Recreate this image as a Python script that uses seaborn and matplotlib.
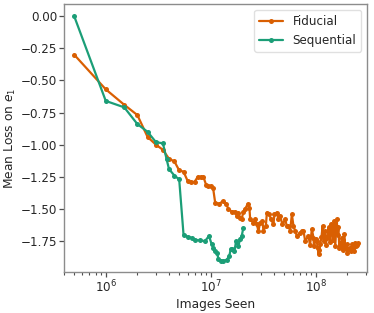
import numpy as np
import pandas as pd
import matplotlib
matplotlib.use("Agg")
import matplotlib.pyplot as plt
import seaborn as sns

# data: images seen (millions) and mean loss on e_1
fid_x = [0.5, 1.0, 1.5, 2.0, 2.5, 3.0, 3.5, 4.0, 4.5, 5.0, 5.5, 6.0, 6.5, 7.0, 7.5,
         8.0, 8.5, 9.0, 9.5, 10.0, 10.5, 11.0, 12.0, 13.0, 14.0, 14.7, 15.8, 17.0,
         17.7, 18.3, 19.0, 19.7, 20.4, 21.2, 22.5, 23.3, 23.7, 25.4, 26.4, 27.4,
         28.4, 29.5, 31.0, 31.7, 33.4, 34.2, 35.9, 37.5, 39.5, 40.3, 42.5, 44.0,
         45.7, 48.1, 51.0, 52.9, 54.8, 56.9, 59.1, 61.2, 63.5, 65.9, 70.9, 73.5,
         76.2, 79.1, 85.0, 88.0, 91.6, 94.9, 96.0, 100.0, 102.0, 104.0, 106.0,
         108.0, 110.0, 113.0, 116.0, 119.0, 121.0, 125.0, 127.0, 130.0, 132.0,
         136.0, 140.0, 142.0, 145.0, 148.0, 150.0, 153.0, 158.0, 161.0, 164.0,
         167.0, 170.0, 173.0, 177.0, 180.0, 183.0, 187.0, 190.0, 197.0, 200.0,
         204.0, 210.0, 215.0, 220.0, 228.0, 232.0, 237.0, 242.0, 246.0, 251.0]
fid_y = [-0.30, -0.57, -0.69, -0.77, -0.94, -1.00, -1.04, -1.11, -1.13, -1.20,
         -1.21, -1.28, -1.29, -1.29, -1.25, -1.25, -1.25, -1.31, -1.32, -1.32,
         -1.335, -1.45, -1.46, -1.44, -1.46, -1.50, -1.52, -1.52, -1.555, -1.53,
         -1.567, -1.58, -1.52, -1.50, -1.46, -1.49, -1.58, -1.606, -1.58, -1.62,
         -1.67, -1.606, -1.593, -1.67, -1.632, -1.528, -1.541, -1.58, -1.62,
         -1.541, -1.528, -1.58, -1.555, -1.62, -1.58, -1.632, -1.632, -1.67,
         -1.541, -1.632, -1.67, -1.71, -1.683, -1.67, -1.67, -1.748, -1.71,
         -1.78, -1.658, -1.722, -1.79, -1.73, -1.748, -1.80, -1.851, -1.82,
         -1.774, -1.72, -1.632, -1.75, -1.67, -1.78, -1.722, -1.70, -1.644,
         -1.76, -1.62, -1.632, -1.74, -1.68, -1.593, -1.79, -1.58, -1.70, -1.644,
         -1.80, -1.761, -1.78, -1.722, -1.82, -1.74, -1.696, -1.80, -1.774,
         -1.84, -1.813, -1.80, -1.83, -1.774, -1.80, -1.83, -1.761, -1.79,
         -1.78, -1.768]

seq_x = [0.5, 1.0, 1.5, 2.0, 2.5, 3.0, 3.5, 3.8, 4.0, 4.5, 5.0, 5.5, 6.0, 6.6,
         7.1, 7.9, 8.8, 9.6, 10.2, 10.6, 11.0, 11.5, 11.8, 12.5, 13.2, 14.2,
         15.0, 15.5, 16.0, 16.8, 17.4, 18.3, 19.0, 19.7, 20.4]
seq_y = [0.00, -0.66, -0.71, -0.84, -0.90, -0.98, -0.99, -1.115, -1.19, -1.24,
         -1.27, -1.70, -1.715, -1.725, -1.74, -1.745, -1.75, -1.71, -1.775,
         -1.80, -1.826, -1.84, -1.89, -1.903, -1.903, -1.895, -1.864, -1.81,
         -1.81, -1.826, -1.75, -1.787, -1.735, -1.71, -1.645]

df = pd.DataFrame({
    "Images Seen": np.array(fid_x + seq_x) * 1e6,
    "loss": fid_y + seq_y,
    "run": ["Fiducial"] * len(fid_x) + ["Sequential"] * len(seq_x),
})

sns.set_style("ticks")
plt.rcParams["font.family"] = ["DejaVu Sans"]
plt.rcParams["font.size"] = 8.6

fig, ax = plt.subplots(figsize=(3.74, 3.13), dpi=100)
fig.subplots_adjust(left=0.171, right=0.981, top=0.987, bottom=0.131)

sns.lineplot(data=df, x="Images Seen", y="loss", hue="run",
             hue_order=["Fiducial", "Sequential"],
             palette={"Fiducial": "#d95f02", "Sequential": "#1b9e77"},
             marker="o", markersize=3.6, markeredgewidth=0, linewidth=1.6,
             ax=ax)

ax.set_xscale("log")
ax.set_xlim(4.0e5, 3.06e8)
ax.set_ylim(-1.99, 0.093)
ax.set_yticks([0.0, -0.25, -0.5, -0.75, -1.0, -1.25, -1.5, -1.75])
ax.set_xlabel("Images Seen", fontsize=8.8, labelpad=1.5)
ax.set_ylabel("Mean Loss on $e_1$", fontsize=8.8, labelpad=2)

for s in ax.spines.values():
    s.set_visible(True)
    s.set_color("0.55")
    s.set_linewidth(1.0)
ax.tick_params(axis="both", which="major", length=3.5, width=0.9,
               color="0.3", labelsize=8.6, pad=1.5)
ax.tick_params(axis="x", which="minor", length=2.3, width=0.8, color="0.3")

leg = ax.legend(loc="upper right", fontsize=8.6, frameon=True)
leg.get_frame().set_edgecolor("0.85")

fig.savefig("out.png", dpi=100)
